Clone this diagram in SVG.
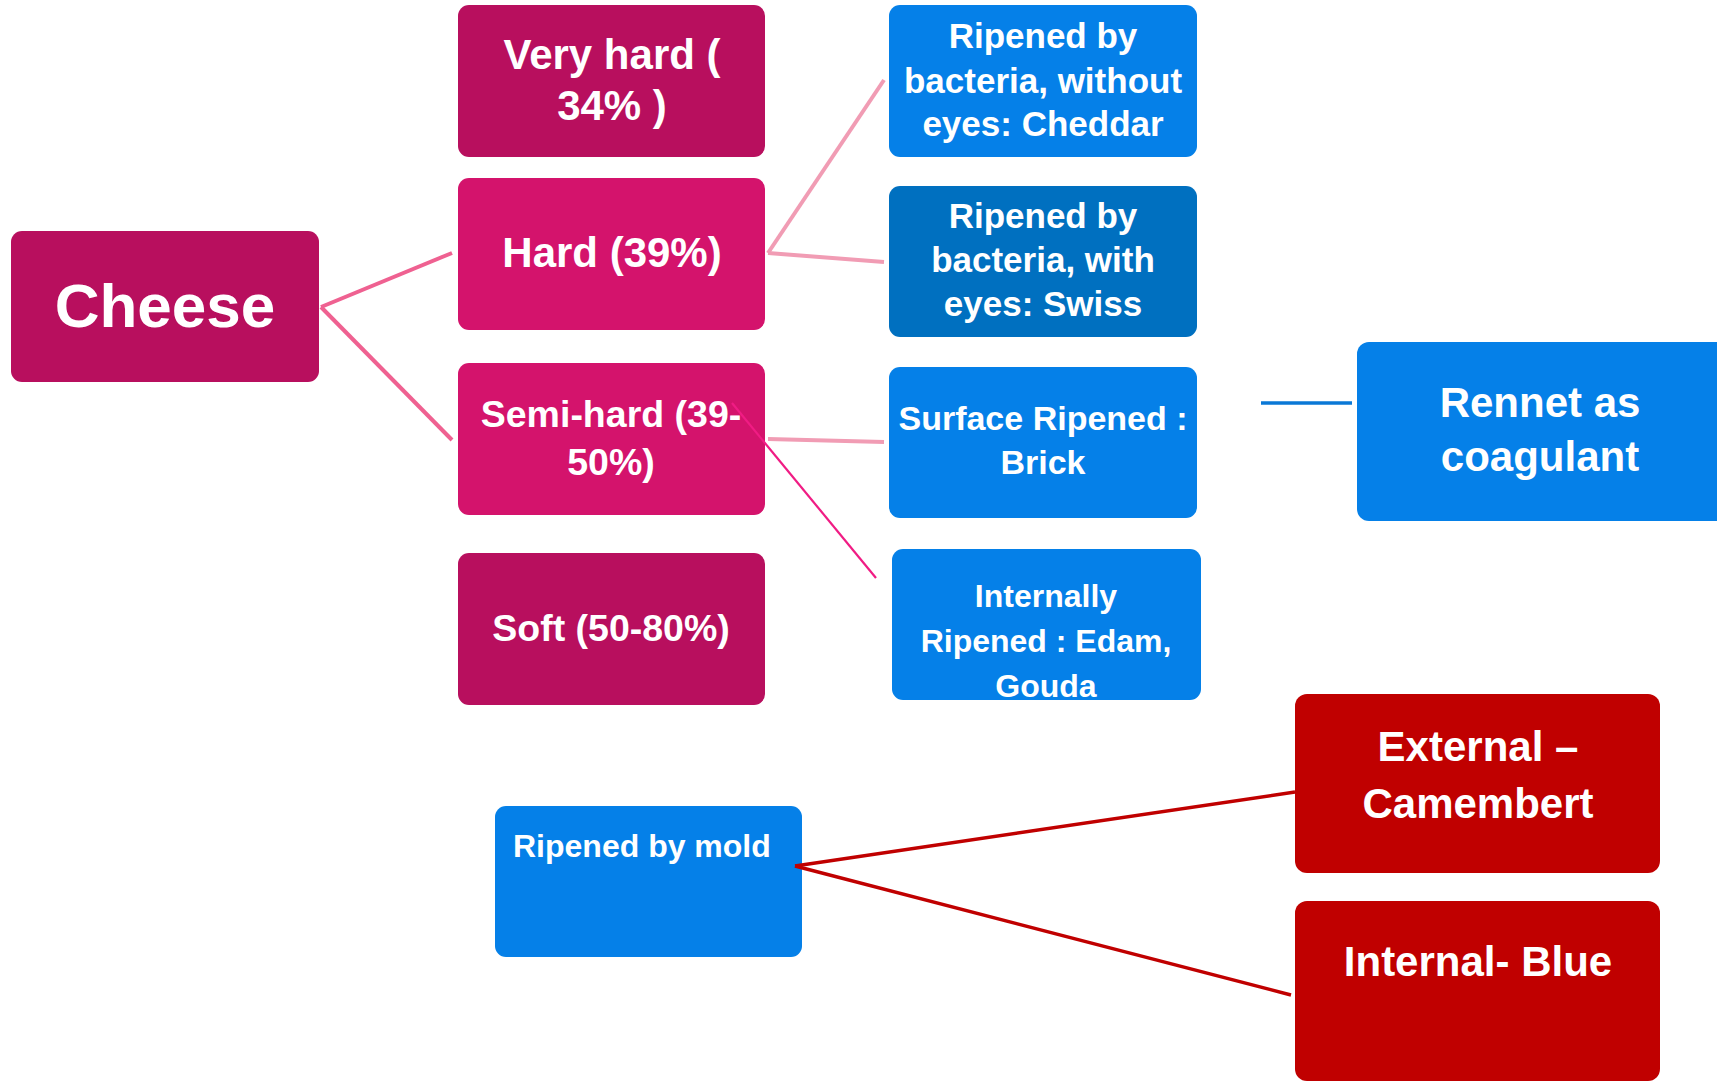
<svg xmlns="http://www.w3.org/2000/svg" width="1717" height="1081" viewBox="0 0 1717 1081">
<style>
.t{font-family:"Liberation Sans",Arial,sans-serif;font-weight:bold;fill:#ffffff;text-anchor:middle}
.dm{fill:#b80f5e}
.mg{fill:#d4136c}
.bl{fill:#0580e8}
.db{fill:#0070c0}
.rd{fill:#c00000}
.c1{stroke:#ef6191;stroke-width:4;fill:none}
.c2{stroke:#f19cb4;stroke-width:4;fill:none}
.c3{stroke:#f01c84;stroke-width:2.2;fill:none}
.c4{stroke:#0a78d6;stroke-width:3.5;fill:none}
.c5{stroke:#c00000;stroke-width:3.5;fill:none}
</style>
<rect width="1717" height="1081" fill="#ffffff"/>
<g id="cheese">
<rect class="dm" x="11" y="231" width="308" height="151" rx="11"/>
<text class="t" x="165" y="327" font-size="62">Cheese</text>
</g>
<g id="very-hard">
<rect class="dm" x="458" y="5" width="307" height="152" rx="11"/>
<text class="t" x="612" y="69" font-size="42">Very hard (</text>
<text class="t" x="612" y="120" font-size="42">34% )</text>
</g>
<g id="hard">
<rect class="mg" x="458" y="178" width="307" height="152" rx="11"/>
<text class="t" x="612" y="267" font-size="42">Hard (39%)</text>
</g>
<g id="semi-hard">
<rect class="mg" x="458" y="363" width="307" height="152" rx="11"/>
<text class="t" x="611" y="427" font-size="37.5">Semi-hard (39-</text>
<text class="t" x="611" y="475" font-size="37.5">50%)</text>
</g>
<g id="soft">
<rect class="dm" x="458" y="553" width="307" height="152" rx="11"/>
<text class="t" x="611" y="641" font-size="37.5">Soft (50-80%)</text>
</g>
<g id="cheddar">
<rect class="bl" x="889" y="5" width="308" height="152" rx="11"/>
<text class="t" x="1043" y="48" font-size="35">Ripened by</text>
<text class="t" x="1043" y="93" font-size="35">bacteria, without</text>
<text class="t" x="1043" y="136" font-size="35">eyes: Cheddar</text>
</g>
<g id="swiss">
<rect class="db" x="889" y="186" width="308" height="151" rx="11"/>
<text class="t" x="1043" y="228" font-size="35">Ripened by</text>
<text class="t" x="1043" y="272" font-size="35">bacteria, with</text>
<text class="t" x="1043" y="316" font-size="35">eyes: Swiss</text>
</g>
<g id="brick">
<rect class="bl" x="889" y="367" width="308" height="151" rx="11"/>
<text class="t" x="1043" y="430" font-size="34">Surface Ripened :</text>
<text class="t" x="1043" y="474" font-size="34">Brick</text>
</g>
<g id="edam">
<rect class="bl" x="892" y="549" width="309" height="151" rx="11"/>
<text class="t" x="1046" y="607" font-size="32">Internally</text>
<text class="t" x="1046" y="652" font-size="32">Ripened : Edam,</text>
<text class="t" x="1046" y="697" font-size="32">Gouda</text>
</g>
<g id="rennet">
<rect class="bl" x="1357" y="342" width="380" height="179" rx="12"/>
<text class="t" x="1540" y="417" font-size="42">Rennet as</text>
<text class="t" x="1540" y="471" font-size="42">coagulant</text>
</g>
<g id="mold">
<rect class="bl" x="495" y="806" width="307" height="151" rx="11"/>
<text class="t" x="513" y="857" font-size="32" style="text-anchor:start">Ripened by mold</text>
</g>
<g id="external">
<rect class="rd" x="1295" y="694" width="365" height="179" rx="12"/>
<text class="t" x="1478" y="761" font-size="42">External –</text>
<text class="t" x="1478" y="818" font-size="42">Camembert</text>
</g>
<g id="internal">
<rect class="rd" x="1295" y="901" width="365" height="180" rx="12"/>
<text class="t" x="1478" y="976" font-size="42">Internal- Blue</text>
</g>
<g id="connectors">
<line class="c1" x1="321" y1="307" x2="452" y2="253"/>
<line class="c1" x1="321" y1="307" x2="452" y2="440"/>
<line class="c2" x1="768" y1="253" x2="884" y2="80"/>
<line class="c2" x1="768" y1="253" x2="884" y2="262"/>
<line class="c2" x1="768" y1="439" x2="884" y2="442"/>
<line class="c3" x1="732" y1="403" x2="876" y2="578"/>
<line class="c4" x1="1261" y1="403" x2="1352" y2="403"/>
<line class="c5" x1="795" y1="866" x2="1295" y2="792"/>
<line class="c5" x1="795" y1="866" x2="1291" y2="995"/>
</g>
</svg>
